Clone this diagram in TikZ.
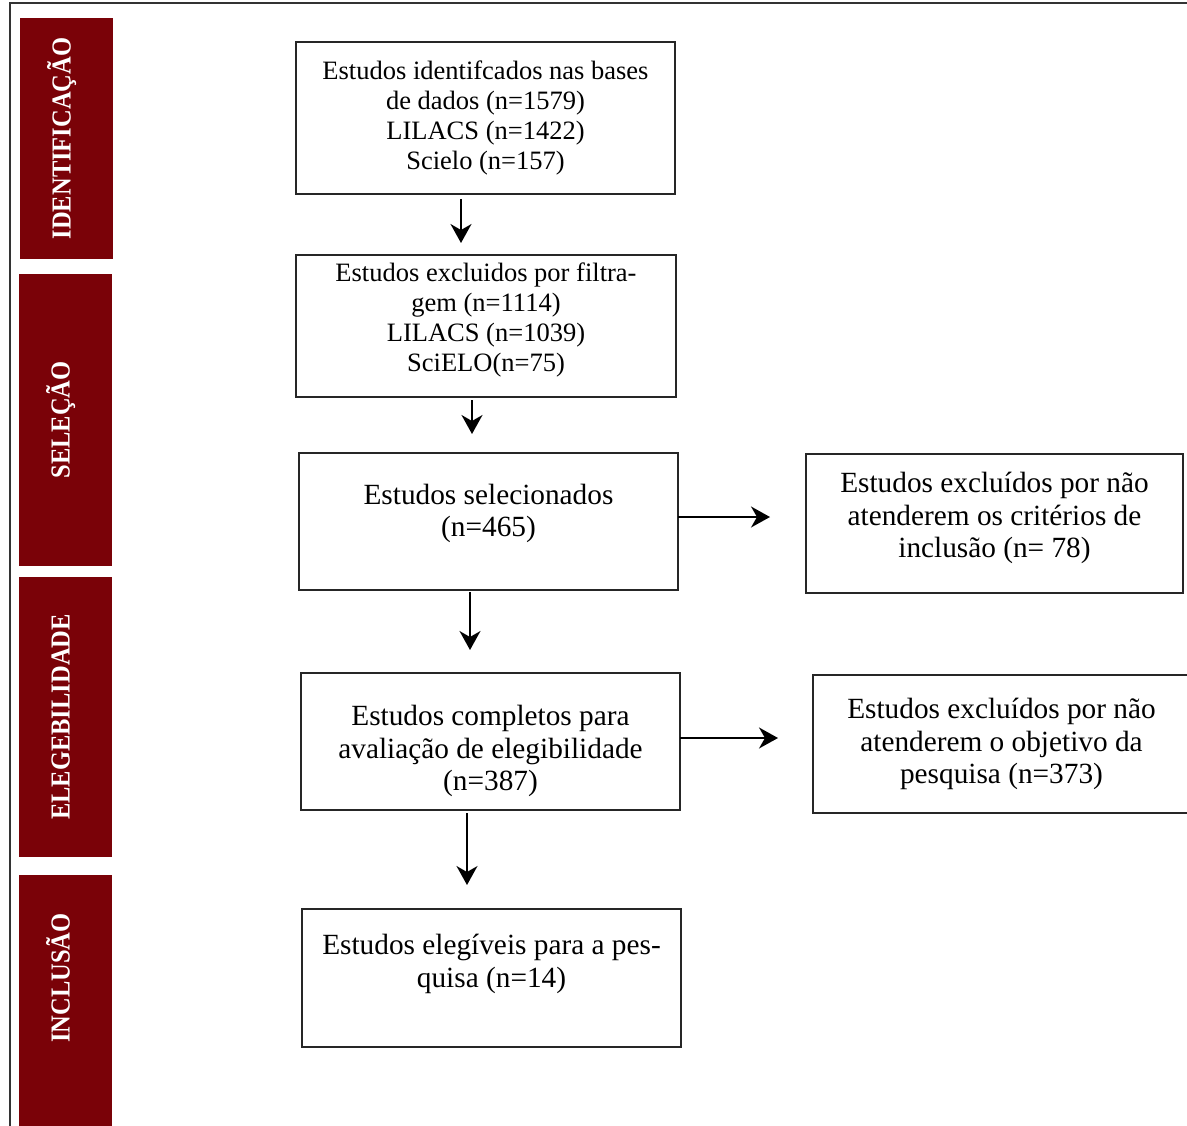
\documentclass[tikz,border=0pt]{standalone}
\usepackage{fontspec}
\setmainfont{Liberation Serif}
\usepackage{tikz}
\usetikzlibrary{arrows.meta, positioning}
\definecolor{maroonbar}{RGB}{122,2,8}
\newcommand{\phasetext}[1]{\scalebox{1}[1.12]{#1}}

\begin{document}
\begin{tikzpicture}[
    x=1pt, y=-1pt,
    phase/.style={fill=maroonbar, text=white, rotate=90, inner sep=0pt, outer sep=0pt,
        minimum height=93pt, text height=23pt, text depth=15pt,
        font=\fontsize{24.5pt}{28pt}\selectfont\bfseries},
    flow/.style={draw=black!85, line width=1.6pt, inner sep=0pt, outer sep=0pt,
        align=center, minimum width=379pt},
    small/.style={flow, font=\fontsize{26.5pt}{30pt}\selectfont},
    large/.style={flow, font=\fontsize{29.3pt}{32.5pt}\selectfont},
    arrow/.style={-{Stealth[length=19pt, width=21pt, inset=6pt]}, line width=1.6pt, draw=black}
]
\useasboundingbox (0,0) rectangle (1187,1126);

% Frame
\coordinate (fbl) at (10,1126);
\coordinate (ftl) at (10,3);
\coordinate (ftr) at (1187,3);
\draw[line width=1.5pt, black!80] (fbl) -- (ftl) -- (ftr);

% Phases
\node[phase, minimum width=241pt] (pid) at (66.5,138.5) {\phasetext{IDENTIFICAÇÃO}};
\node[phase, minimum width=292pt] (psel) at (65.5,420) {\phasetext{SELEÇÃO}};
\node[phase, minimum width=280pt] (peleg) at (65.5,717) {\phasetext{ELEGEBILIDADE}};
\node[phase, minimum width=256pt] (pinc) at (65.5,1003) {\hspace{50pt}\phasetext{INCLUSÃO}};

% Main flow
\node[small, minimum width=379pt, minimum height=152pt] (ident) at (485.5,118) {Estudos identifcados nas bases\\de dados (n=1579)\\LILACS (n=1422)\\Scielo (n=157)};
\node[small, minimum width=380pt, minimum height=142pt] (filt) at (486,326) {Estudos excluidos por filtra-\\gem (n=1114)\\LILACS (n=1039)\\SciELO(n=75)\\[-12pt]\mbox{}};
\node[large, minimum height=137pt] (sel) at (488.5,521.5) {Estudos selecionados\\(n=465)\\[-10pt]\mbox{}};
\node[large, minimum height=137pt] (comp) at (490.5,741.5) {\mbox{}\\[7pt]Estudos completos para\\avaliação de elegibilidade\\(n=387)};
\node[large, minimum height=138pt] (eleg) at (491.5,978) {Estudos elegíveis para a pes-\\quisa (n=14)\\[2pt]\mbox{}};

% Exclusions
\node[large, minimum width=377pt, minimum height=139pt] (exc1) at (994.5,523.5) {Estudos excluídos por não\\atenderem os critérios de\\inclusão (n= 78)\\[-16pt]\mbox{}};
\node[large, minimum width=377pt, minimum height=138pt] (exc2) at (1001.5,744) {Estudos excluídos por não\\atenderem o objetivo da\\pesquisa (n=373)};

% Arrows
\draw[arrow, shorten <=5pt, shorten >=12pt] ([xshift=-24.5pt]ident.south) -- ([xshift=-25pt]filt.north);
\draw[arrow, shorten <=3pt, shorten >=19pt] ([xshift=-14pt]filt.south) -- ([xshift=-16.5pt]sel.north);
\draw[arrow, shorten <=2pt, shorten >=23pt] ([xshift=-18.5pt]sel.south) -- ([xshift=-20.5pt]comp.north);
\draw[arrow, shorten <=3pt, shorten >=24pt] ([xshift=-23.5pt]comp.south) -- ([xshift=-24.5pt]eleg.north);
\draw[arrow, shorten >=36pt] ([yshift=4.5pt]sel.east) -- ([yshift=6.5pt]exc1.west);
\draw[arrow, shorten >=35pt] ([yshift=3.5pt]comp.east) -- ([yshift=6pt]exc2.west);

\end{tikzpicture}
\end{document}
